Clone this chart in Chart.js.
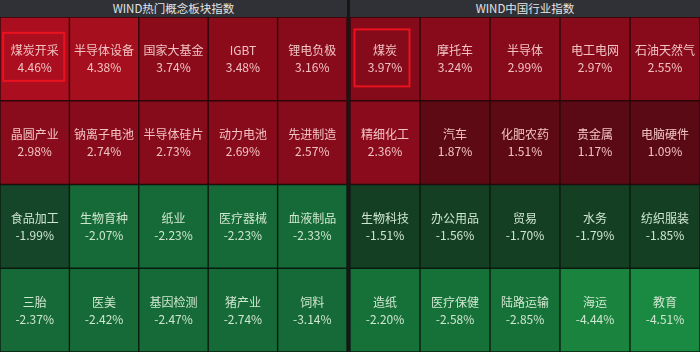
<!DOCTYPE html>
<html>
<head>
<meta charset="utf-8">
<script src="https://cdn.jsdelivr.net/npm/chart.js@4.4.1/dist/chart.umd.min.js"></script>
<style>
  body { margin: 0; background: #161616; width: 700px; height: 352px; overflow: hidden;
         font-family: "Noto Sans CJK SC", "Noto Sans", sans-serif; }
  .panel { position: absolute; top: 0; height: 352px; }
  .title { height: 17px; line-height: 17px; background: #2f3136; color: #e4e4e4;
           font-size: 11.5px; text-align: center; }
  canvas { display: block; }
</style>
</head>
<body>
<div class="panel" style="left:0;width:347px">
  <div class="title">WIND热门概念板块指数</div>
  <canvas id="conceptChart" width="347" height="335"></canvas>
</div>
<div class="panel" style="left:350px;width:350px">
  <div class="title">WIND中国行业指数</div>
  <canvas id="industryChart" width="350" height="335"></canvas>
</div>
<script>
// data, row by row (5 tiles per row)
var conceptNames = ['煤炭开采', '半导体设备', '国家大基金', 'IGBT', '锂电负极',
                    '晶圆产业', '钠离子电池', '半导体硅片', '动力电池', '先进制造',
                    '食品加工', '生物育种', '纸业', '医疗器械', '血液制品',
                    '三胎', '医美', '基因检测', '猪产业', '饲料'];
var conceptValues = [4.46, 4.38, 3.74, 3.48, 3.16,
                     2.98, 2.74, 2.73, 2.69, 2.57,
                     -1.99, -2.07, -2.23, -2.23, -2.33,
                     -2.37, -2.42, -2.47, -2.74, -3.14];
var industryNames = ['煤炭', '摩托车', '半导体', '电工电网', '石油天然气',
                     '精细化工', '汽车', '化肥农药', '贵金属', '电脑硬件',
                     '生物科技', '办公用品', '贸易', '水务', '纺织服装',
                     '造纸', '医疗保健', '陆路运输', '海运', '教育'];
var industryValues = [3.97, 3.24, 2.99, 2.97, 2.55,
                      2.36, 1.87, 1.51, 1.17, 1.09,
                      -1.51, -1.56, -1.70, -1.79, -1.85,
                      -2.20, -2.58, -2.85, -4.44, -4.51];
var columns = ['1', '2', '3', '4', '5'];

// tile shades as seen in the picture
var conceptShades = ['#ab0f1f', '#a50f1e', '#8b0b1b', '#8b0b1b', '#870b1b',
                     '#890c1c', '#870b1b', '#860b1b', '#880b1b', '#860b1b',
                     '#15462a', '#156a37', '#156a37', '#156a37', '#156a37',
                     '#156a37', '#156a37', '#156a37', '#156a37', '#156a37'];
var industryShades = ['#850b1b', '#880b1b', '#880b1b', '#880b1b', '#880b1b',
                      '#8a0c1c', '#5d0a15', '#5d0a15', '#5a0a14', '#5a0a14',
                      '#143f23', '#143f23', '#143f23', '#143f23', '#143f23',
                      '#167138', '#167138', '#167138', '#1a843f', '#1a8942'];

var tileText = {
    id: 'tileText',
    afterDatasetsDraw: function(chart, args, opts) {
        var ctx = chart.ctx;
        ctx.save();
        ctx.textAlign = 'center';
        ctx.textBaseline = 'middle';
        chart.data.datasets.forEach(function(ds, r) {
            chart.getDatasetMeta(r).data.forEach(function(bar, c) {
                var i = r * 5 + c;
                var cx = bar.x;
                var cy = (bar.y + bar.base) / 2;
                var v = opts.values[i];
                ctx.fillStyle = v >= 0 ? '#f2c2c2' : '#cfe6cf';
                ctx.font = '12px "Noto Sans CJK SC", sans-serif';
                ctx.fillText(opts.names[i], cx, cy - 8);
                ctx.fillText(v.toFixed(2) + '%', cx, cy + 9);
                if (i === opts.selected) {
                    ctx.strokeStyle = '#ea121f';
                    ctx.lineWidth = 2;
                    var b = opts.box;
                    ctx.strokeRect(cx + b[0] - b[2] / 2, cy + b[1] - b[3] / 2, b[2], b[3]);
                }
            });
        });
        ctx.restore();
    }
};

function makeTiles(id, names, values, shades, box) {
    var datasets = [];
    for (var r = 0; r < 4; r++) {
        datasets.push({
            data: [1, 1, 1, 1, 1],
            backgroundColor: shades.slice(r * 5, r * 5 + 5),
            borderColor: r < 2 ? '#2a0609' : '#0b1a0f',
            borderWidth: 1,
            borderSkipped: false,
            barPercentage: 1,
            categoryPercentage: 1
        });
    }
    return new Chart(document.getElementById(id).getContext('2d'), {
        type: 'bar',
        data: { labels: columns, datasets: datasets },
        options: {
            responsive: false,
            animation: false,
            layout: { padding: 0 },
            scales: {
                x: { display: false, stacked: true },
                y: { display: false, stacked: true, reverse: true, min: 0, max: 4 }
            },
            plugins: {
                legend: { display: false },
                tooltip: { enabled: false },
                tileText: { names: names, values: values, selected: 0, box: box }
            }
        },
        plugins: [tileText]
    });
}

makeTiles('conceptChart', conceptNames, conceptValues, conceptShades, [-1, -2, 61, 48]);
makeTiles('industryChart', industryNames, industryValues, industryShades, [-3, -1, 55, 57]);
</script>
</body>
</html>
